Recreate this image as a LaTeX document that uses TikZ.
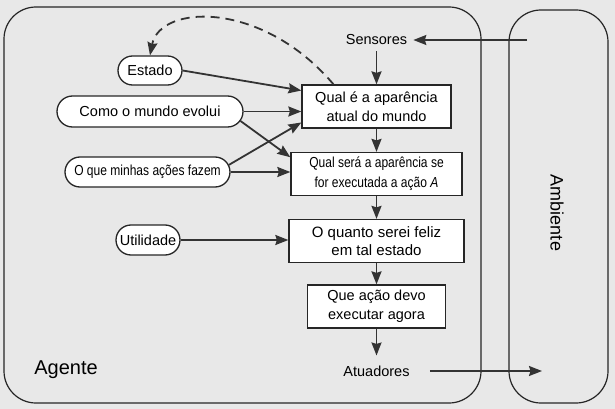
\documentclass[tikz,border=0pt]{standalone}
\usepackage{fontspec}
\setmainfont{Liberation Sans}
\newfontfamily\estreita[FakeStretch=0.83]{Liberation Sans}
\usetikzlibrary{arrows.meta,shapes.misc,positioning}

\begin{document}
\begin{tikzpicture}[x=1pt,y=-1pt,>={Stealth[length=13pt,width=10pt,inset=1.5pt]},
  caixa/.style={draw=black!85, line width=1.3pt, fill=white, align=center,
    minimum height=43pt, inner sep=3pt, font=\fontsize{14.5}{19}\selectfont},
  pilula/.style={rounded rectangle, draw=black!85, line width=1.3pt, fill=white,
    inner xsep=8pt, font=\fontsize{14.5}{17}\selectfont},
  seta/.style={->, line width=1.8pt, draw=black!80},
  rotulo/.style={font=\fontsize{14.5}{17}\selectfont}]

  \useasboundingbox (0,0) rectangle (615,409);
  \fill[black!9] (0,0) rectangle (615,409);

%%%%%%%%%%%%%%%%%%%%%%%%%%%%%%%%%%%%%%%%%%
  % Agente e ambiente
  \draw[black!85, line width=1.2pt, rounded corners=32pt] (4,7) rectangle (481,403);
  \draw[black!85, line width=1.2pt, rounded corners=32pt] (509,10) rectangle (608,403);
  \node[font=\fontsize{20}{24}\selectfont] (agente) at (66,370) {Agente};
  \node[font=\fontsize{18}{22}\selectfont, rotate=-90] (ambiente) at (557,213) {Ambiente};

%%%%%%%%%%%%%%%%%%%%%%%%%%%%%%%%%%%%%%%%%%
  % Coluna central
  \node[rotulo, inner sep=6pt] (sensores) at (376.5,40) {Sensores};
  \node[caixa, minimum width=149pt] (atual) at (376.5,106.5)
    {Qual é a aparência\\atual do mundo};
  \node[caixa, minimum width=171pt, font=\estreita\fontsize{14.5}{20}\selectfont]
    (futuro) at (376.5,174) {Qual será a aparência se\\for executada a ação \textit{A}};
  \node[caixa, minimum width=175pt, font=\fontsize{15}{18}\selectfont]
    (feliz) at (376.5,241) {O quanto serei feliz\\em tal estado};
  \node[caixa, minimum width=138pt] (acao) at (376.5,306.5)
    {Que ação devo\\executar agora};
  \node[rotulo, inner xsep=20pt, inner ysep=10pt] (atuadores) at (376.5,371) {Atuadores};

  % Conhecimento do agente
  \node[pilula, minimum width=80pt, minimum height=29pt] (estado) at (150,70.5) {Estado};
  \node[pilula, minimum width=202pt, minimum height=31pt] (mundo) at (150,111.5)
    {Como o mundo evolui};
  \node[pilula, minimum width=181pt, minimum height=30pt,
    font=\estreita\fontsize{14.5}{17}\selectfont] (efeitos) at (147.5,172)
    {O que minhas ações fazem};
  \node[pilula, minimum width=80pt, minimum height=30pt] (utilidade) at (148,240) {Utilidade};

  \coordinate (entrada) at (527,40);
  \coordinate (saida) at (542,371);

%%%%%%%%%%%%%%%%%%%%%%%%%%%%%%%%%%%%%%%%%%
  % Setas
  \draw[seta] (entrada) -- (sensores);
  \draw[seta] (sensores) -- (atual);
  \draw[seta] (atual) -- (futuro);
  \draw[seta] (futuro) -- (feliz);
  \draw[seta] (feliz) -- (acao);
  \draw[seta] (acao) -- (atuadores);
  \draw[seta] (atuadores) -- (saida);

  \draw[seta] (estado.east) -- (atual.168);
  \draw[seta] (mundo.east) -- (mundo.east -| atual.west);
  \draw[seta] (mundo.-6) -- (futuro.169);
  \draw[seta] (efeitos.5) -- (atual.192);
  \draw[seta] (efeitos.east) -- (efeitos.east -| futuro.west);
  \draw[seta] (utilidade.east) -- (utilidade.east -| feliz.west);

  % Atualizacao do estado
  \draw[seta, dash pattern=on 9pt off 6pt] ([xshift=-43pt]atual.north)
    .. controls (262,0) and (160,4) .. (estado.north);

\end{tikzpicture}
\end{document}
